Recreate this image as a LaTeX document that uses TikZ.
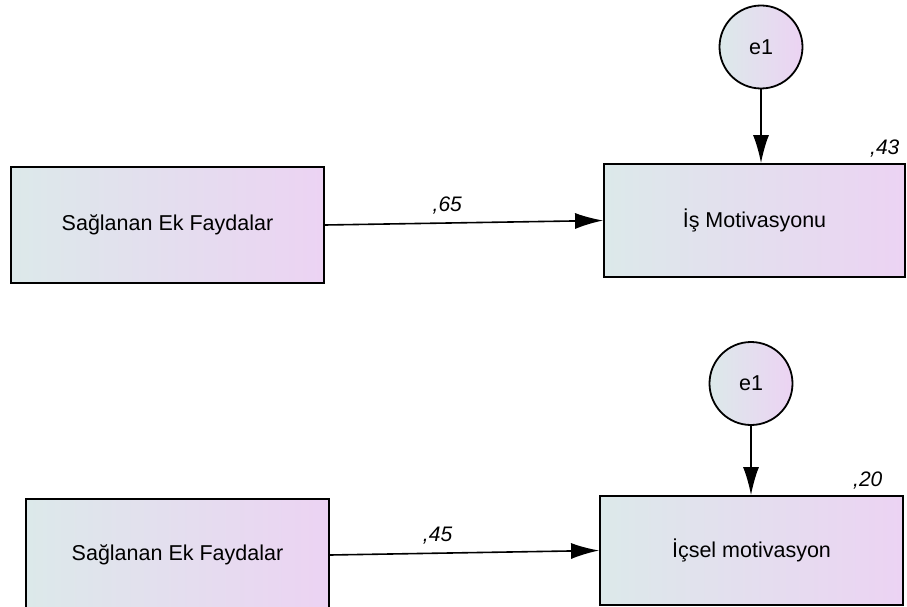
\documentclass[tikz,border=0pt]{standalone}
\usepackage{fontspec}
\setmainfont{Liberation Sans}
\usepackage{tikz}
\usetikzlibrary{arrows.meta}
\usetikzlibrary{positioning}
\definecolor{boxleft}{RGB}{220,233,234}
\definecolor{boxright}{RGB}{236,211,243}
\tikzset{varbox/.style={draw, line width=1.8pt, left color=boxleft, right color=boxright,
           minimum width=#1, minimum height=112pt, inner sep=0pt},
         errnode/.style={draw, circle, line width=1.8pt, left color=boxleft, right color=boxright,
           minimum size=83pt, inner sep=0pt},
         path/.style={line width=1.6pt, -{Latex[length=28pt,width=16pt]}},
         coef/.style={font=\fontsize{21}{24}\selectfont\itshape}}

\begin{document}
\begin{tikzpicture}[x=1pt, y=-1pt, font=\fontsize{21.5}{25}\selectfont]
\useasboundingbox (0,0) rectangle (907,607);
% first model
\node[varbox=313pt, minimum height=116pt] (ek1) at (167.5,225) {Sağlanan Ek Faydalar};
\node[varbox=301pt, minimum height=113pt] (mot1) at (754.5,220.5) {İş Motivasyonu};
\node[errnode] (e1a) at (761,47) {e1};
\draw[path] (ek1.east) -- node[coef, pos=0.44, above=5pt] (c65) {,65} (mot1.west);
\draw[path] (e1a) -- (e1a |- mot1.north);
\node[coef, above left=2pt and 3pt of mot1.north east] (r43) {,43};
% second model
\node[varbox=303pt] (ek2) at (177.5,555) {Sağlanan Ek Faydalar};
\node[varbox=303pt, minimum height=109pt] (mot2) at (751.5,550.5) {İçsel motivasyon};
\node[errnode] (e1b) at (751,383.5) {e1};
\draw[path] (ek2.east) -- node[coef, pos=0.4, above=5pt] (c45) {,45} (mot2.west);
\draw[path] (e1b) -- (e1b |- mot2.north);
\node[coef, above left=2pt and 18pt of mot2.north east] (r20) {,20};
\end{tikzpicture}
\end{document}
